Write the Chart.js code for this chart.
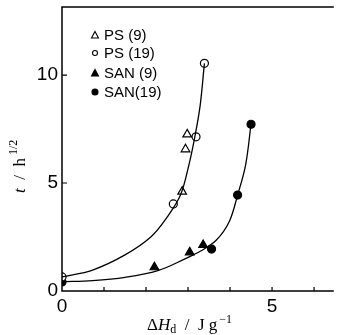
<!DOCTYPE html>
<html><head><meta charset="utf-8">
<script src="https://cdn.jsdelivr.net/npm/chart.js@4.4.0/dist/chart.umd.min.js"></script>
<style>html,body{margin:0;padding:0;background:#fff}#w{width:340px;height:335px}</style>
</head><body><div id="w"><canvas id="c"></canvas></div>
<script>
// Data: x = ΔHd (J/g), y = t (h^1/2)
const ps9X = [2.86, 2.94, 2.98];
const ps9Y = [4.60, 6.56, 7.25];
const ps19X = [0, 2.65, 3.19, 3.39];
const ps19Y = [0.65, 4.03, 7.14, 10.54];
const san9X = [2.20, 3.04, 3.36];
const san9Y = [1.10, 1.79, 2.13];
const san19X = [0, 3.56, 4.18, 4.50];
const san19Y = [0.42, 1.94, 4.44, 7.72];
// fitted curves
const psCurveX = [0, 0.73, 1.5, 2.12, 2.51, 2.82, 3.02, 3.17, 3.29, 3.39];
const psCurveY = [0.65, 0.97, 1.67, 2.51, 3.44, 4.44, 5.83, 7.22, 8.61, 10.54];
const sanCurveX = [0, 0.73, 1.5, 2.28, 2.94, 3.30, 3.67, 3.98, 4.18, 4.37, 4.50];
const sanCurveY = [0.43, 0.48, 0.63, 0.94, 1.50, 1.85, 2.35, 3.21, 4.44, 5.83, 7.72];
const xTickLabels = {0: '0', 5: '5'};
const yTickLabels = {0: '0', 5: '5', 10: '10'};
const legendLabels = ['PS (9)', 'PS (19)', 'SAN (9)', 'SAN(19)'];

const pts = (xs, ys) => xs.map((x, i) => ({x: x, y: ys[i]}));

const markerDs = (label, xs, ys, style, filled) => ({
  label: label, data: pts(xs, ys), showLine: false,
  pointStyle: style, pointRadius: style === 'triangle' ? 5 : 4,
  pointBackgroundColor: filled ? '#000' : '#fff', pointBorderColor: '#000',
  pointBorderWidth: 1.2
});
const curveDs = (xs, ys) => ({
  data: pts(xs, ys), showLine: true, pointRadius: 0, borderColor: '#000',
  borderWidth: 1.3, tension: 0.35, fill: false
});

const overlay = {
  id: 'overlay',
  afterDraw(chart) {
    const ctx = chart.ctx, a = chart.chartArea;
    const xs = chart.scales.x, ys = chart.scales.y;
    ctx.save();
    ctx.strokeStyle = '#000'; ctx.lineWidth = 1.5;
    ctx.beginPath();
    ctx.moveTo(a.right, a.top); ctx.lineTo(a.left, a.top); ctx.lineTo(a.left, a.bottom); ctx.lineTo(a.right, a.bottom);
    ctx.stroke();
    ctx.lineWidth = 1.2;
    ctx.beginPath();
    for (let v = 1; v <= 6; v++) { const p = xs.getPixelForValue(v); ctx.moveTo(p, a.bottom); ctx.lineTo(p, a.bottom - 4); }
    [5, 10].forEach(v => { const p = ys.getPixelForValue(v); ctx.moveTo(a.left, p); ctx.lineTo(a.left + 5, p); });
    ctx.stroke();
    // legend
    const styles = [['triangle', false], ['circle', false], ['triangle', true], ['circle', true]];
    const rowOff = [28, 46, 66, 85];
    ctx.font = '15px "Liberation Sans", Arial, sans-serif';
    ctx.textBaseline = 'middle';
    legendLabels.forEach((t, i) => {
      const y = a.top + rowOff[i], x = a.left + 33;
      ctx.fillStyle = styles[i][1] ? '#000' : '#fff';
      ctx.lineWidth = 1.1;
      ctx.beginPath();
      if (styles[i][0] === 'triangle') { ctx.moveTo(x, y - 3.5); ctx.lineTo(x + 3.5, y + 3); ctx.lineTo(x - 3.5, y + 3); ctx.closePath(); }
      else { ctx.arc(x, y, styles[i][1] ? 3 : 2.5, 0, Math.PI * 2); }
      ctx.fill(); ctx.stroke();
      ctx.fillStyle = '#000';
      ctx.fillText(t, x + 9, y + 1);
    });
    // x title
    ctx.textBaseline = 'alphabetic';
    const tx = 147, ty = 330;
    const seg = (txt, font, dx, dy) => { ctx.font = font; ctx.fillText(txt, tx + w, ty + dy); w += ctx.measureText(txt).width + dx; };
    let w = 0;
    seg('Δ', '17px "Liberation Serif", serif', 0, 0);
    seg('H', 'italic 17px "Liberation Serif", serif', 0, 0);
    seg('d', '12px "Liberation Serif", serif', 0, 3);
    seg('  /  J g', '17px "Liberation Serif", serif', 2, 0);
    seg('−1', '12px "Liberation Serif", serif', 0, -7);
    // y title
    ctx.translate(25, 193); ctx.rotate(-Math.PI / 2);
    let v = 0;
    ctx.font = 'italic 17px "Liberation Serif", serif';
    ctx.fillText('t', 0, 0); v = ctx.measureText('t').width;
    ctx.font = '17px "Liberation Serif", serif';
    ctx.fillText('  /  h', v, 0); v += ctx.measureText('  /  h').width + 3;
    ctx.font = '12px "Liberation Serif", serif';
    ctx.fillText('1/2', v, -8);
    ctx.restore();
  }
};

new Chart(document.getElementById('c'), {
  type: 'scatter',
  data: { datasets: [
    curveDs(psCurveX, psCurveY),
    curveDs(sanCurveX, sanCurveY),
    markerDs('PS (9)', ps9X, ps9Y, 'triangle', false),
    markerDs('PS (19)', ps19X, ps19Y, 'circle', false),
    markerDs('SAN (9)', san9X, san9Y, 'triangle', true),
    markerDs('SAN(19)', san19X, san19Y, 'circle', true)
  ]},
  options: {
    responsive: true, maintainAspectRatio: false, animation: false,
    layout: { padding: { top: 7, right: 0, left: 0, bottom: 0 } },
    plugins: { legend: { display: false }, tooltip: { enabled: false } },
    scales: {
      x: { min: 0, max: 6.47, border: { display: false },
        grid: { display: false, drawTicks: false },
        afterBuildTicks: s => { s.ticks = [0, 5].map(v => ({value: v})); },
        ticks: { color: '#000', padding: 4, maxRotation: 0, autoSkip: false,
          font: { size: 19, family: '"Liberation Sans", Arial, sans-serif' },
          callback: v => xTickLabels[v] ?? '' },
        afterFit: s => { s.height = 44; s.paddingLeft = 0; s.paddingRight = 0; } },
      y: { min: 0, max: 13.15, border: { display: false },
        grid: { display: false, drawTicks: false },
        afterBuildTicks: s => { s.ticks = [0, 5, 10].map(v => ({value: v})); },
        ticks: { color: '#000', padding: 4, autoSkip: false,
          font: { size: 19, family: '"Liberation Sans", Arial, sans-serif' },
          callback: v => yTickLabels[v] ?? '' },
        afterFit: s => { s.width = 62; s.paddingTop = 0; s.paddingBottom = 0; } }
    }
  },
  plugins: [overlay]
});
</script></body></html>
